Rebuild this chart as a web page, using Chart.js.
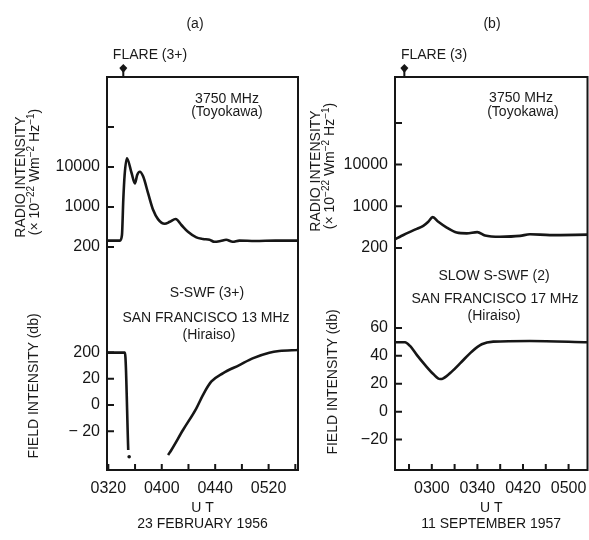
<!DOCTYPE html>
<html><head><meta charset="utf-8">
<script src="https://cdn.jsdelivr.net/npm/chart.js@4.4.1/dist/chart.umd.min.js"></script>
<style>
html,body{margin:0;padding:0;background:#fff;}
#wrap{position:relative;width:589px;height:540px;overflow:hidden;background:#fff;}
canvas{position:absolute;top:0;}
.t{position:absolute;white-space:nowrap;font-family:"Liberation Sans",Arial,sans-serif;font-size:14px;color:#1a1a1a;line-height:1;transform:translate(-50%,-50%);}
.r{transform:translate(-50%,-50%) rotate(-90deg);}
sup{font-size:10px;vertical-align:5px;line-height:0;}
</style></head><body>
<div id="wrap">
<canvas id="ca" width="302" height="540" style="left:0;width:302px;height:540px"></canvas>
<canvas id="cb" width="287" height="540" style="left:302px;width:287px;height:540px"></canvas>

<div class="t" style="left:195px;top:23px">(a)</div>
<div class="t" style="left:492px;top:23px">(b)</div>
<div class="t" style="left:150px;top:54px">FLARE (3+)</div>
<div class="t" style="left:434px;top:54px">FLARE (3)</div>
<div class="t" style="left:227px;top:98px">3750 MHz</div>
<div class="t" style="left:227px;top:111px">(Toyokawa)</div>
<div class="t" style="left:521px;top:97px">3750 MHz</div>
<div class="t" style="left:523px;top:111px">(Toyokawa)</div>
<div class="t" style="left:207px;top:292px">S-SWF (3+)</div>
<div class="t" style="left:206px;top:317px">SAN FRANCISCO 13 MHz</div>
<div class="t" style="left:209px;top:334px">(Hiraiso)</div>
<div class="t" style="left:494px;top:275px">SLOW S-SWF (2)</div>
<div class="t" style="left:495px;top:298px">SAN FRANCISCO 17 MHz</div>
<div class="t" style="left:494px;top:315px">(Hiraiso)</div>
<div class="t r" style="left:20px;top:177px">RADIO INTENSITY</div>
<div class="t r" style="left:34px;top:172px">(× 10<sup>−22</sup> Wm<sup>−2</sup> Hz<sup>−1</sup>)</div>
<div class="t r" style="left:33px;top:386px">FIELD INTENSITY (db)</div>
<div class="t r" style="left:315px;top:171px">RADIO INTENSITY</div>
<div class="t r" style="left:329px;top:166px">(× 10<sup>−22</sup> Wm<sup>−2</sup> Hz<sup>−1</sup>)</div>
<div class="t r" style="left:332px;top:382px">FIELD INTENSITY (db)</div>
</div>
<script>
const INK = '#161616';
const FONT = '"Liberation Sans", Arial, sans-serif';

// ---- Panel (a): 23 February 1956 (time = minutes after 00:00 UT) ----
// radio level: plot units of the intensity axis (0 = 200, 1 = 1000, 2 = 10000)
const timesRadioA = [199, 208.7, 210.2, 211.2, 212.2, 213.9, 217.4, 219.9, 221.6, 223.6, 226.1, 229.8, 233.5, 237.3, 242.2, 246.0, 250.4, 254.7, 259.6, 265.9, 270.8, 275.8, 279.5, 284, 288.2, 293.1, 298.1, 310, 325, 342];
const radioLevelA = [0.16, 0.16, 0.30, 1.18, 1.8, 2.22, 1.85, 1.59, 1.80, 1.88, 1.76, 1.34, 0.93, 0.69, 0.58, 0.63, 0.70, 0.55, 0.38, 0.24, 0.20, 0.18, 0.13, 0.15, 0.18, 0.13, 0.16, 0.15, 0.16, 0.16];
const timesFieldA = [199, 212.4, 214.9, 230, 244.7, 247.2, 255.9, 265.9, 270.8, 277.0, 285.7, 298.1, 308.0, 320.5, 327.9, 342];
const fieldA = [40, 40, -34.3, null, -38.2, -34.3, -19.1, -2.5, 7.6, 17.8, 24.2, 30.5, 35.6, 39.9, 41.2, 42];
const timesFieldDotA = [215.6];
const fieldDotA = [-39.5];
const flareTimeA = 211.2;
const xTicksA = [200, 220, 240, 260, 280, 300, 320, 340];
const xTickLabelsA = ['0320', '', '0400', '', '0440', '', '0520', ''];
const fieldTicksA = [40, 20, 0, -20];
const fieldTickLabelsA = ['200', '20', '0', '− 20'];

// ---- Panel (b): 11 September 1957 ----
const timesRadioB = [147.7, 152.1, 159.4, 166.8, 172.5, 176.9, 180.8, 185.7, 193.1, 201.8, 210.6, 219.9, 226.7, 239.8, 257.4, 266.1, 283.7, 317];
const radioLevelB = [0.21, 0.27, 0.37, 0.46, 0.53, 0.63, 0.74, 0.63, 0.49, 0.37, 0.35, 0.38, 0.30, 0.27, 0.29, 0.33, 0.31, 0.32];
const timesFieldB = [147.7, 156.5, 160.9, 166.8, 174.0, 181.3, 187.2, 190.1, 197.5, 206.2, 215.0, 223.8, 233.9, 266.1, 317];
const fieldB = [49.8, 49.8, 47.1, 40.7, 33.5, 27.0, 23.4, 23.9, 28.7, 35.8, 43.0, 48.3, 50.2, 50.7, 49.8];
const flareTimeB = 155.9;
const xTicksB = [160, 180, 200, 220, 240, 260, 280, 300];
const xTickLabelsB = ['', '0300', '', '0340', '', '0420', '', '0500'];
const fieldTicksB = [60, 40, 20, 0, -20];
const fieldTickLabelsB = ['60', '40', '20', '0', '−20'];

// shared radio-intensity ticks
const radioTicks = [0, 1, 2, 3];
const radioTickLabels = ['200', '1000', '10000', ''];

const pairs = (xs, ys) => xs.map((x, i) => ({x, y: ys[i]}));

const frame = {
  id: 'frame',
  afterDatasetsDraw(chart, args, opts) {
    const {ctx, chartArea: a, scales} = chart;
    ctx.save();
    ctx.strokeStyle = INK; ctx.lineWidth = 2;
    ctx.strokeRect(a.left, a.top, a.right - a.left, a.bottom - a.top);
    ctx.beginPath();
    for (const id of ['yR', 'yF']) {
      const s = scales[id];
      s.ticks.forEach((t, i) => { const y = s.getPixelForTick(i); ctx.moveTo(a.left, y); ctx.lineTo(a.left + 7, y); });
    }
    const sx = scales.x;
    sx.ticks.forEach((t, i) => { const x = sx.getPixelForTick(i); ctx.moveTo(x, a.bottom); ctx.lineTo(x, a.bottom - 6); });
    ctx.stroke();
    const fx = sx.getPixelForValue(opts.flare);
    ctx.fillStyle = INK;
    ctx.beginPath();
    ctx.moveTo(fx, a.top - 13); ctx.lineTo(fx + 4, a.top - 9); ctx.lineTo(fx, a.top - 4); ctx.lineTo(fx - 4, a.top - 9);
    ctx.closePath(); ctx.fill();
    ctx.beginPath(); ctx.moveTo(fx, a.top - 6); ctx.lineTo(fx, a.top); ctx.stroke();
    ctx.restore();
  }
};

const lineStyle = {borderColor: INK, borderWidth: 2.6, pointRadius: 0, fill: false, cubicInterpolationMode: 'monotone', spanGaps: false};

function panel(id, o) {
  const font = {family: FONT, size: 16};
  const datasets = [
    Object.assign({data: pairs(o.tr, o.r), yAxisID: 'yR'}, lineStyle),
    Object.assign({data: pairs(o.tf, o.f), yAxisID: 'yF'}, lineStyle)
  ];
  if (o.dotT) datasets.push({data: pairs(o.dotT, o.dot), yAxisID: 'yF', showLine: false, pointRadius: 1.8, pointBackgroundColor: INK, pointBorderWidth: 0});
  const yCommon = (ticks, labels, w) => ({
    type: 'linear', position: 'left', stack: 'p',
    grid: {display: false, drawTicks: false}, border: {display: false},
    afterBuildTicks: s => { s.ticks = ticks.map(v => ({value: v})); },
    afterFit: s => { s.width = w; },
    ticks: {font, color: INK, padding: 7, autoSkip: false, callback: (v, i) => labels[i]}
  });
  return new Chart(document.getElementById(id), {
    type: 'line',
    data: {datasets},
    options: {
      responsive: false, animation: false, events: [],
      layout: {padding: {top: 77, right: o.padRight, left: 0, bottom: 0}},
      plugins: {legend: {display: false}, tooltip: {enabled: false}, frame: {flare: o.flare}},
      scales: {
        x: {
          type: 'linear', position: 'bottom', min: o.xmin, max: o.xmax,
          grid: {display: false, drawTicks: true, tickLength: 9}, border: {display: false},
          afterBuildTicks: s => { s.ticks = o.xt.map(v => ({value: v})); },
          afterFit: s => { s.height = 70; },
          ticks: {font, color: INK, padding: 0, maxRotation: 0, autoSkip: false, callback: (v, i) => o.xl[i]},
          title: {display: true, text: o.xtitle, font: {family: FONT, size: 14}, color: INK, padding: {top: 0, bottom: 7}}
        },
        yF: Object.assign(yCommon(o.ft, o.fl, o.yw), {stackWeight: o.wF, weight: 0, min: o.fmin, max: o.fmax}),
        yR: Object.assign(yCommon(radioTicks, radioTickLabels, o.yw), {stackWeight: o.wR, weight: 1, min: o.rmin, max: o.rmax})
      }
    },
    plugins: [frame]
  });
}

panel('ca', {
  tr: timesRadioA, r: radioLevelA, tf: timesFieldA, f: fieldA, dotT: timesFieldDotA, dot: fieldDotA,
  flare: flareTimeA, xt: xTicksA, xl: xTickLabelsA, ft: fieldTicksA, fl: fieldTickLabelsA,
  xmin: 199, xmax: 342, rmin: -0.825, rmax: 4.25, fmin: -49.6, fmax: 95.4,
  wR: 203, wF: 190, yw: 107, padRight: 3, xtitle: ['U T', '23 FEBRUARY 1956']
});
panel('cb', {
  tr: timesRadioB, r: radioLevelB, tf: timesFieldB, f: fieldB,
  flare: flareTimeB, xt: xTicksB, xl: xTickLabelsB, ft: fieldTicksB, fl: fieldTickLabelsB,
  xmin: 147.7, xmax: 316.6, rmin: -0.887, rmax: 4.10, fmin: -41.8, fmax: 90.8,
  wR: 208, wF: 185, yw: 93, padRight: 1.5, xtitle: ['U T', '11 SEPTEMBER 1957']
});
</script>
</body></html>
